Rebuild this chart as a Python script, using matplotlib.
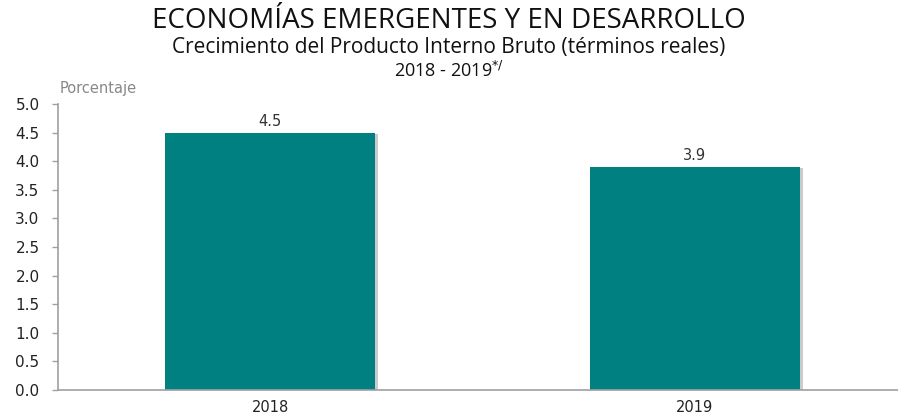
import matplotlib
matplotlib.use("Agg")
import matplotlib.pyplot as plt
import matplotlib.patheffects as pe

plt.rcParams["font.family"] = ["DejaVu Sans"]

categories = ["2018", "2019"]
values = [4.5, 3.9]
yticks = [0.0, 0.5, 1.0, 1.5, 2.0, 2.5, 3.0, 3.5, 4.0, 4.5, 5.0]

fig = plt.figure(figsize=(8.98, 4.15), dpi=100)
ax = fig.add_axes([58/898, 1-390/415, 1-58/898, (390-104)/415])

x = list(range(len(categories)))
bars = ax.bar(x, values, width=0.495, color="#008080", zorder=2)
for b in bars:
    b.set_path_effects([pe.SimplePatchShadow(offset=(2, -1), shadow_rgbFace="#999999", alpha=0.5), pe.Normal()])
for xi, v in zip(x, values):
    ax.text(xi, v + 0.06, f"{v:.1f}", ha="center", va="bottom", fontsize=10.5, color="#333333")

ax.set_xlim(-0.499, 1.478)
ax.set_ylim(0, 5.0)
ax.set_yticks(yticks)
ax.set_yticklabels([f"{t:.1f}" for t in yticks], fontsize=11, color="#222222")
ax.set_xticks(x)
ax.set_xticklabels(categories, fontsize=10.5, color="#222222")
ax.tick_params(axis="x", length=0, pad=7)
ax.tick_params(axis="y", length=4.3, color="#A0A0A0", width=1, pad=9)
for s in ["top", "right"]:
    ax.spines[s].set_visible(False)
for s in ["left", "bottom"]:
    ax.spines[s].set_color("#A0A0A0")
    ax.spines[s].set_linewidth(1.2)

fig.text(0.5, 1-21/415, "ECONOMÍAS EMERGENTES Y EN DESARROLLO", ha="center", va="center",
         fontsize=20, family="Open Sans", color="#111111")
fig.text(0.5, 1-48/415, "Crecimiento del Producto Interno Bruto (términos reales)", ha="center", va="center",
         fontsize=15, family="Open Sans", color="#111111")
fig.text(0.5, 1-71/415, r"2018 - 2019$^{*/}$", ha="center", va="center",
         fontsize=13, family="Open Sans", color="#111111")
fig.text(60/898, 1-89/415, "Porcentaje", ha="left", va="center", fontsize=10.5, color="#888888")

fig.savefig("out.png", dpi=100)
